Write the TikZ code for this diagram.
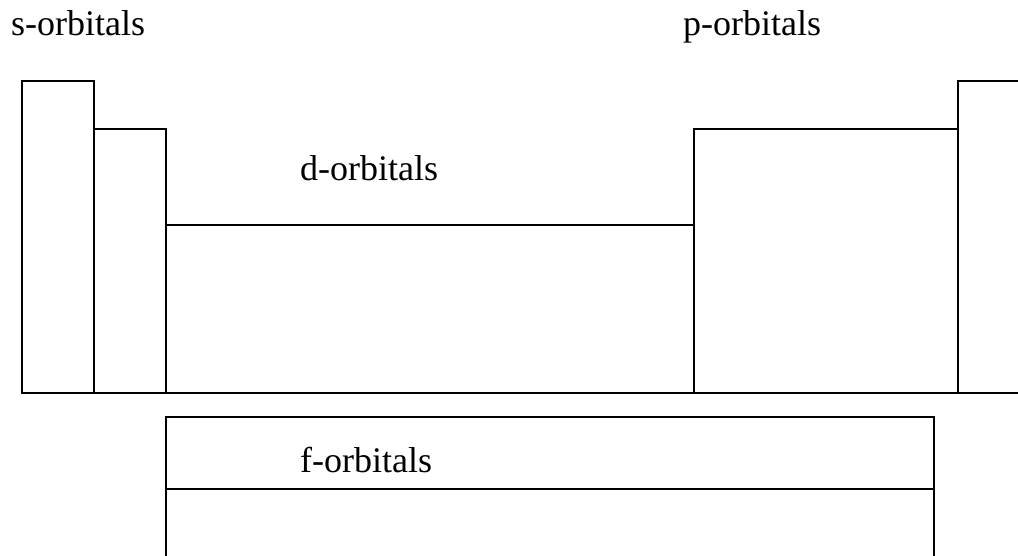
\documentclass[tikz,border=0pt]{standalone}
\usepackage{fontspec}
\setmainfont{Liberation Serif}
\begin{document}
\begin{tikzpicture}[x=1pt,y=-1pt,
  block/.style={draw=black,line width=1.8pt,fill=white},
  label/.style={anchor=base west,inner sep=0pt,font=\fontsize{36}{42}\selectfont}]
\useasboundingbox (0,0) rectangle (1018,556);
\clip (0,0) rectangle (1018,556);
% s-block: two columns
\draw[block] (22,81) rectangle (94,393);
\draw[block] (94,129) rectangle (166,393);
% d-block
\draw[block] (166,225) rectangle (694,393);
% p-block and the last column running off the right edge
\draw[block] (694,129) rectangle (958,393);
\draw[block] (958,81) rectangle (1030,393);
% f-block (two rows, the lower one running off the bottom edge)
\draw[block] (166,417) rectangle (934,489);
\draw[block] (166,489) rectangle (934,570);
% block labels
\node[label] (s) at (11,36) {s-orbitals};
\node[label] (p) at (683,36) {p-orbitals};
\node[label] (d) at (300,181) {d-orbitals};
\node[label] (f) at (300,472) {f-orbitals};
\end{tikzpicture}
\end{document}
